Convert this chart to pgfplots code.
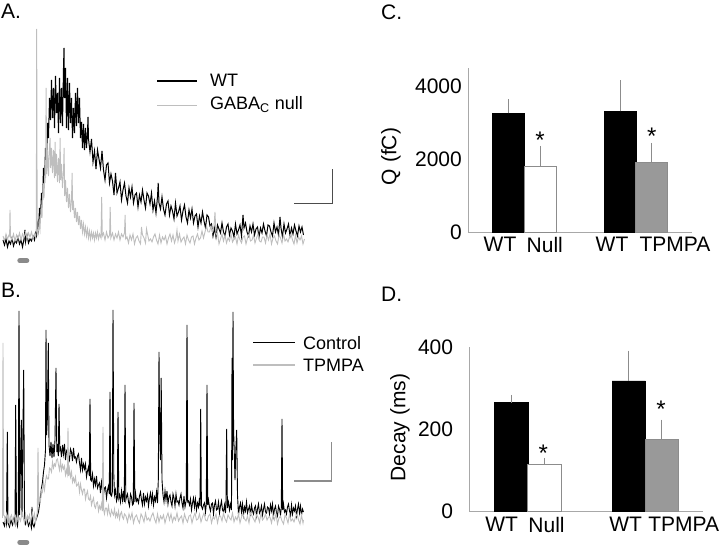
\documentclass[border=0pt]{standalone}
\usepackage{pgfplots}
\pgfplotsset{compat=1.18}
\usepackage{fontspec}
\setmainfont{Liberation Sans}
\definecolor{trgray}{HTML}{BEBEBE}
\definecolor{bargray}{HTML}{999999}
\definecolor{axgray}{HTML}{A8A8A8}
\definecolor{errgray}{HTML}{8C8C8C}
\definecolor{stimgray}{HTML}{8A8A8A}
\newcommand{\tickfont}{\fontsize{21}{25}\selectfont}
\newcommand{\legfont}{\fontsize{18}{22}\selectfont}
\begin{document}
\begin{tikzpicture}
\path[use as bounding box] (0pt,0pt) rectangle (720pt,546pt);
% panel letters
\node[anchor=base west, inner sep=0pt, font=\tickfont] at (1pt,527pt) {A.};
\node[anchor=base west, inner sep=0pt, font=\tickfont] at (1pt,248pt) {B.};
\node[anchor=base west, inner sep=0pt, font=\tickfont] at (381pt,526pt) {C.};
\node[anchor=base west, inner sep=0pt, font=\tickfont] at (381pt,244pt) {D.};

% ---------------- Panel A ----------------
\begin{axis}[at={(0pt,283pt)}, anchor=south west, scale only axis,
  width=340pt, height=237pt, xmin=0, xmax=340, ymin=-25, ymax=212,
  hide axis, clip=false]
\addplot[black, line width=1pt] coordinates {
(3,-2)(4.5,-7)(6,-1)(7.5,-9)(9,-3)(10.5,-6)(12,0)(13.5,-8)(15,-3)(16.5,-5)(18,1)(19.5,-6)(21,-2)(22.5,-9)(24,-1)(25,8)(25.5,-4)(27,3)(28.5,-5)(30,-1)(31.5,-3)(33,2)(34.5,-2)(35.5,5)(36.5,2)(37.5,14)(38.5,8)(39.5,30)(40.5,22)(41.5,45)(42.5,38)(43.5,70)(44.5,55)(45.5,90)(46.5,75)(47.5,115)(48.5,100)(49.5,140)(50.5,118)
(51.5,158)(52.5,120)(53.5,150)(54.5,110)(55.5,162)(56.5,125)(57.5,145)(58.5,105)(59.5,160)(60.5,115)(61.5,150)(62.5,112)(63.5,170)(64,190)(64.5,140)(65.5,170)(66.5,110)(67.5,160)(68.5,108)(69.5,155)(70.5,115)(71.5,140)(72.5,100)(73.5,130)(74.5,105)(75.5,145)(76.5,112)(77.5,150)(78.5,115)(79.5,140)(80.5,100)(81.5,116)(82.5,90)(83.5,114)(84.5,88)(85.5,110)(86.5,90)(87.5,106)
(88,121)(88.5,99)(90,86)(91.5,99)(93,76)(94.5,87)(96,69)(97.5,88)(99,79)(100.5,70)(102,87)(103.5,68)(105,58)(106.5,73)(108,75)(109.5,55)(111,64)(112.5,57)(114,43)(115.5,65)(117,45)(118.5,50)(120,56)
(121.5,38)(123,48)(124.5,55)(126,42)(127.5,35)(129,50)(130.5,41)(132,51)(133.5,35)(135,43)(136.5,45)(138,31)(139.5,43)(141,36)(142.5,48)(144,38)(145.5,30)(147,45)(148.5,42)(150,34)(151.5,45)(153,28)(154.5,37)(156,25)(157.5,41)(158.2,55)(159,35)(160.5,29)
(162,41)(163.5,29)(165,23)(166.5,34)(168,37)(169.5,23)(171,32)(172.5,27)(174,19)(175.5,35)(177,22)(178.5,26)(180,32)(181.5,18)(183,27)(184.5,33)(186,21)(187.5,15)(189,28)(190.5,20)(192,29)(193.5,15)(195,22)(196.5,24)(198,11)(199.5,22)(201,15)(202.5,26)(204,17)(205.5,10)(207,23)(208.5,21)(210,12)
(211.5,14)(213,2)(214.5,10)(216,1)(217.5,13)(219,9)(220.5,5)(222,15)(223.5,6)(225,2)(226.5,11)(228,14)(229.5,3)(231,10)(232.5,7)(234,1)(235.5,14)(237,4)(238.5,8)(240,13)(241.5,2)(243,23)(244,10)(245.5,15)(247,6)(248.5,2)(250,12)(251.5,6)(253,14)(254.5,3)(256,9)(257.5,11)(259,1)(260.5,10)(262,5)(263.5,14)(265,7)(266.5,2)(268,13)(269.5,12)(271,6)(272.5,2)(274,15)(275.5,6)(277,11)(278.5,3)(280,21)(281,10)(282.5,1)(284,14)(285.5,5)(287,9)(288.5,14)(290,2)(291.5,10)(293,4)(294.5,13)(296,7)(297.5,2)(299,12)(300.5,6)(302,11)(303.5,3)
};
\addplot[trgray, line width=0.9pt] coordinates {
(3,2)(4.5,-3)(6,4)(7.5,-1)(9,3)(9.6,2)(10,28)(10.5,1)(12,-2)(13.5,4)(15,-3)(16.5,3)(18,-1)(19.5,5)(21,-2)(22.5,4)(24,0)(25.5,6)(27,-1)(28.5,5)(30,1)(31.5,6)(33,-1)(34.5,4)(35.7,1)(36.3,10)(36.7,209)(37.2,8)(38,4)(39,14)(40,8)(41,30)(42,20)(43,55)(44,40)(45,72)(45.6,60)(46.1,150)(46.7,64)(47.5,88)(48.5,62)(49.5,92)(50.1,100)(50.7,70)(51.5,90)(52.5,65)(53.5,88)(54.5,60)(55.1,96)(55.7,62)(56.5,84)(57.5,56)(58.5,80)(59.5,55)(60.1,100)(60.7,58)(61.5,74)(62.5,50)(63.5,66)(64.1,90)(64.7,42)(65.5,58)(66.5,36)(67.5,50)(68.5,30)(69.5,44)(70.5,26)(71.5,38)(72.1,65)(72.7,28)(73.5,34)(74.5,20)(75.5,30)(76.5,16)(77.5,26)(78.5,13)(79.5,22)(80.5,9)(81.5,18)(82.5,6)(83.5,14)(84.5,4)(85.5,11)(86.5,2)(87.5,9)(88.5,0)(89.5,7)(90.5,-1)(91.5,6)(92.5,0)(93.5,5)(94.5,-2)(95.5,5)(96.5,0)(97.5,6)(98.5,-1)(99.5,4)(101,0)(101.7,41)(102.3,2)(103.5,5)(105,-2)(106.5,6)(108,0)(109.6,3)(110.2,31)(110.8,0)(112.5,5)(114,-2)(115.5,4)(117,0)(118.5,6)(120,-2)(121.5,4)(123,1)(124.5,5)(125.1,23)(125.7,-1)
(127,1)(128.5,-5)(130,3)(131.5,-2)(133,4)(134.5,-6)(136,0)(137.5,2)(139,-3)(140.5,-6)(141.5,11)(142.5,3)(144,0)(145.5,-5)(146.5,9)(147.5,4)(149,-3)(150.5,-1)(152,-4)(153.5,1)(155,4)(156.5,-2)(158,-6)(159.5,3)(161,-5)(162.5,1)(164,-2)(165.5,2)(167,-6)(168.5,0)(170,4)(171.5,-3)(173,3)(174.5,-5)(176,0)(177,8)(178,-3)(179.5,4)(181,-4)(182.5,-1)(184,1)(185.5,-6)(187,3)(188.5,-2)(190,-5)(191.5,1)(193,2)(194.5,-6)(196,0)(197.5,4)
(199,-2)(200.5,0)(202,7)(203.5,0)(205,6)(206.5,12)(208,6)(209.5,6)(211,12)(212.5,6)(214,12)(215,26)(216,3)(217.5,5)
(219,-6)(220.5,-1)(222,4)(223.5,-3)(225,3)(226.5,-5)(228,0)(229.5,-3)(231,4)(232.5,-4)(234,-1)(235.5,1)(237,-6)(238.5,3)(240,-2)(241.5,-5)(243,1)(244.5,2)(246,-6)(247.5,0)(249,4)(250.5,-3)(252,-2)(253.5,3)(255,-5)(256.5,0)(258,4)(259.5,-3)(261,-4)(262.5,1)(264,1)(265.5,-5)(267,3)(268.5,-2)(270,4)(271.5,-6)(273,0)(274.5,2)(276,-3)(277.5,-6)(279,3)(280.5,0)(282,-5)(283.5,4)(285,-3)(286.5,-1)(288,-4)(289.5,1)(291,4)(292.5,-2)(294,-6)(295.5,3)(297,-5)(298.5,1)(300,-2)(301.5,2)(303,-6)(304.5,-1)
};
% stimulus marker
\addplot[stimgray, line width=5pt, line cap=round] coordinates {(19.8,-22.7)(26.8,-22.7)};
% scale bar
\addplot[black!70, line width=1.1pt] coordinates {(294.3,34.3)(332.7,34.3)(332.7,69)};
% legend
\draw[black, line width=1.2pt] (axis cs:157,157) -- (axis cs:197,157);
\draw[trgray, line width=1.2pt] (axis cs:157,132.5) -- (axis cs:197,132.5);
\node[anchor=base west, inner sep=0pt, font=\legfont] at (axis cs:210,151) {WT};
\node[anchor=base west, inner sep=0pt, font=\legfont] at (axis cs:210,128) {GABA\textsubscript{C} null};
\end{axis}

% ---------------- Panel B ----------------
\begin{axis}[at={(0pt,0pt)}, anchor=south west, scale only axis,
  width=340pt, height=246pt, xmin=0, xmax=340, ymin=-26, ymax=220,
  hide axis, clip=false]
\addplot[black, line width=0.9pt] coordinates {
(3,-2)(4.5,-6)(5.5,1)(6.5,-4)(7.3,88)(8,-3)(9.5,-7)(11,0)(12.5,-5)(14,2)(15,-3)(15.7,115)(16.5,-2)(17.5,-6)(18.3,4)(19,209)(19.7,5)(20.5,60)(21.3,100)(22,3)(22.8,80)(23.7,150)(24.5,2)(25.5,-4)(27,1)(28.5,-6)(30,-2)(31.5,-8)(32,13)(32.5,-3)(34,-7)(35.5,-1)(37,3)(38.5,8)(39.5,15)(40.5,22)(41.5,32)(42.5,38)(43.5,48)(44.5,55)(45.5,70)(46,190)(46.6,85)(47.3,100)(48.3,177)(49,75)(50,64)(51,78)(52,62)(53,76)(54,63)(55,80)(56,152)(56.8,68)(57.5,76)(58.3,64)(59,116)(59.8,70)
(60.5,72)(61.5,63)(62.5,75)(63.5,66)(64.5,76)(65.5,60)(66.5,69)(67.5,71)(68.5,64)(69.5,60)(70.5,71)(71.5,68)(72.5,59)(73.5,72)(74.5,62)(75.5,63)(76.5,58)(77.5,64)(78.5,66)(79.5,57)(80.5,50)(81.5,62)(82.5,50)(83.5,56)(84.5,51)(85.5,56)(86.5,43)(87.5,49)(88.5,53)(89.3,44)(90,121)(90.7,40)(91.5,39)(92.5,46)(93.5,34)(94.5,41)(95.5,35)(96.5,44)(97.5,32)(98.5,35)(99.5,37)(100.5,27)(101.5,38)(102.5,30)(103.5,25)(104.5,32)(105.5,33)(106.5,22)(107.5,30)(108.5,34)(109.3,26)(110,128)(110.7,25)(111.5,24)(112.3,28)(113,210)(113.8,45)(114.5,25)(115.5,30)(116.5,19)(117.3,22)(118,108)(118.8,22)
(119.5,25)(120.5,18)(121.5,29)(122.5,20)(123.5,29)(124.3,18)(125,135)(125.8,20)(126.5,23)(127.5,26)(128.5,18)(129.5,14)(130.5,26)(131.5,23)(132.5,15)(133.3,16)(134,117)(134.8,18)(135.5,27)(136.5,19)(137.5,21)(138.5,17)(139.5,24)(140.5,28)(141.5,20)(142.5,15)(143.5,27)(144.5,16)(145.5,23)(146.5,19)(147.5,25)(148.5,14)(149.5,22)(150.5,27)(151.5,18)(152.5,26)(153.5,15)(154.5,23)(155.5,19)(156.5,28)(157.5,17)(158.3,40)(159,168)(159.8,80)(160.5,60)(161.2,142)(162,40)
(163,25)(164,18)(165,29)(166,20)(167,29)(168,16)(169,23)(170,25)(171,18)(172,14)(173,26)(174,22)(175,14)(176,26)(177,18)(178,19)(179,15)(180,22)(181,26)(182,17)(183,12)(184,24)(185,13)(186.3,20)(187,195)(187.7,18)(188.5,19)(189.5,15)(190.5,21)(191.5,10)(192.5,17)(193.5,22)(194.5,13)(195.5,21)(196.5,10)(197.5,17)(198.5,13)(199.5,22)(200,14)(200.7,111)(201.4,14)(202.5,11)(203.5,15)(204.5,17)(205.5,8)(206.3,16)(207,135)(207.7,15)(208.5,20)(209.5,13)(210.5,9)(211.5,16)(212.5,17)(213.5,6)(214.5,15)(215.5,19)(216.5,10)(217.5,11)(218.5,18)(219.5,7)(220.5,14)(221.5,19)(222.5,10)(223.5,8)(224.5,15)(225.5,7)(226,20)(226.7,91)(227.4,12)(228.5,18)(229.5,10)(230.5,16)(231.5,10)(232,162)(232.5,60)(233,208)(233.6,90)(234.2,70)(235,40)(235.8,70)(236.7,90)(237.5,25)
(238.5,5)(239.5,13)(240.5,17)(241.5,8)(242.5,16)(243.5,5)(244.5,13)(245.5,9)(246.5,18)(247.5,7)(248.5,11)(249.5,14)(250.5,4)(251.5,15)(252.5,9)(253.5,6)(254.5,12)(255.5,14)(256.5,4)(257.5,11)(258.5,16)(259.5,7)(260.5,9)(261.5,14)(262.5,5)(263.5,11)(264.5,16)(265.5,8)(266.5,7)(267.5,13)(268.5,12)(269.5,6)(270.5,15)(271.5,9)(272.5,16)(273.5,4)(274.5,11)(275.5,14)(276.5,7)(277.5,4)(278.5,14)(279.5,11)(280.5,5)(281.3,12)(282,101)(282.7,10)(283.5,16)(284.5,8)(285.5,10)(286.5,6)(287.5,13)(288.5,16)(289.5,9)(290.5,4)(291.5,15)(292.5,6)(293.5,12)(294.5,9)(295.5,14)(296.5,4)(297.5,11)(298.5,16)(299.5,7)(300.5,14)(301.5,5)(302.5,11)(303.5,8)
};
\addplot[trgray, line width=0.9pt] coordinates {
(2.5,2)(3,177)(3.6,5)(4.5,4)(5.5,-2)(6.5,6)(7.5,1)(8.5,7)(9.5,-3)(10.5,3)(11.5,5)(12.5,0)(13.5,-3)(14.5,6)(15.5,3)(16.5,-2)(17.5,7)(18.5,0)(19.5,2)(20.5,-1)(21.5,4)(22.5,7)(23.5,1)(24.5,-3)(25.5,6)(26.5,-2)(27.5,4)(28.5,1)(29.5,5)(30.5,-3)(31.5,3)(32.5,7)(33.5,0)(34.5,6)(35.5,-2)(36.5,3)(37.3,8)(38,72)(38.7,15)
(39.5,22)(40.5,19)(41.5,30)(42.5,28)(43.5,37)(44.5,30)(45.5,39)(46.5,44)(47.5,41)(48.5,41)(49.5,52)(50.5,51)(51.5,48)(52.5,58)(53.5,52)(54.5,56)(55.5,54)(56.5,60)(57.5,61)(58.5,55)(59.5,50)(60.5,59)(61.5,50)(62.5,55)(63.5,51)(64.5,54)(65.5,45)(66.5,50)(67.3,46)(68,92)(68.7,44)(69.5,51)(70.5,43)(71.5,48)(72.5,38)(73.5,42)(74.5,38)(75.5,43)(76.5,34)(77.5,35)(78.5,37)(79.5,28)(80.5,36)(81.5,30)(82.5,26)(83.5,31)(84.5,31)(85.5,21)(86.5,26)(87.5,29)(88.5,21)(89.5,20)(90.5,24)(91.5,15)(92.5,19)(93.5,22)(94.5,14)(95.5,12)(96.5,17)(97.5,18)(98.5,9)(99.5,14)(100.5,11)(101.5,16)(102.3,9)(103,93)(103.7,10)(104.5,6)(105.5,12)(106.5,12)(107.5,6)(108.5,14)(109.5,7)(110.5,4)(111.5,10)(112.5,7)(113.5,5)(114.5,11)(115.5,3)(116.5,7)(117.5,3)(118.5,9)(119.5,1)(120.5,6)(121.5,8)(122.5,3)(123.5,1)(124.5,6)
(126,4)(127.5,-2)(129,6)(130.5,1)(132,7)(133.5,-3)(135,3)(136.5,5)(138,0)(139.5,-3)(141,6)(142.5,3)(144,-2)(145.5,7)(147,0)(148.5,2)(150,-1)(151.5,4)(153,7)(154.5,1)(156,-3)(157.5,6)(159,-2)(160.5,4)(162,1)(163.5,5)(165,-3)(166.5,3)(168,7)(169.5,0)(171,6)(172.5,-2)(174,3)(175.5,0)(177,7)(178.5,-1)(180,2)(181.5,4)(183,-3)(184.5,6)(186,1)(187.5,-2)(189,4)(190.5,5)(192,-3)(193.5,3)(195,7)(196.5,0)(198,1)(199.5,6)(201,-2)(202.5,3)(204,7)(205.5,0)(207,-1)(208.5,4)(210,6)(211.5,-3)(213,3)(214.5,1)(216,6)(217.5,-3)(219,4)(220.5,4)(222,-1)(223.5,7)(225,1)(226.5,-2)(228,5)(229.5,2)(231,0)(232.5,7)(234,-2)(235.5,3)(237,0)(238.5,6)(240,-3)(241.5,3)(243,6)(244.5,1)(246,-1)(247.5,4)(249,-3)(250.5,7)(252,4)(253.5,1)(255,-2)(256.5,5)(258,3)(259.5,-2)(261,7)(262.5,0)(264,2)(265.5,6)(267,0)(268.5,3)(270,3)(271.5,-3)(273,5)(274.5,0)(276,6)(277.5,-4)(279,2)(280.5,4)(282,-1)(283.5,-4)(285,5)(286.5,2)(288,-3)(289.5,6)(291,-1)(292.5,1)(294,-2)(295.5,3)(297,6)(298.5,0)(300,-4)(301.5,5)(303,-3)(303.5,0)
};
\addplot[stimgray, line width=5pt, line cap=round] coordinates {(19.8,-22.3)(26.8,-22.3)};
\addplot[errgray, line width=1.1pt] coordinates {(294,39)(331.7,39)(331.7,77.7)};
\draw[black, line width=1.2pt] (axis cs:253,177.3) -- (axis cs:295,177.3);
\draw[trgray, line width=1.2pt] (axis cs:253,155) -- (axis cs:295,155);
\node[anchor=base west, inner sep=0pt, font=\legfont] at (axis cs:303,170) {Control};
\node[anchor=base west, inner sep=0pt, font=\legfont] at (axis cs:303,148.3) {TPMPA};
\end{axis}

% ---------------- Panel C ----------------
\begin{axis}[at={(468pt,313.7pt)}, anchor=south west, scale only axis,
  width=224pt, height=164.7pt,
  xmin=0, xmax=7, ymin=0, ymax=4500,
  axis x line*=bottom, axis y line*=left,
  axis line style={draw=axgray, line width=0.8pt},
  major tick length=0pt,
  ytick={0,2000,4000},
  xtick={1.0,2.4,4.5,6.47}, xticklabels={WT,Null,WT,TPMPA},
  tick label style={font=\tickfont},
  yticklabel style={anchor=east, inner sep=0pt, xshift=-6pt},
  xticklabel style={anchor=north, inner sep=0pt, yshift=-5pt},
  /pgf/number format/1000 sep={},
  /pgf/number format/assume math mode=true,
  ylabel={Q (fC)},
  every axis y label/.style={at={(axis description cs:-0.344,0.46)}, rotate=90, anchor=center, font=\tickfont},
  clip=false]
\addplot[ybar, bar width=1, bar shift=0pt, fill=black, draw=black,
  error bars/.cd, y dir=plus, y explicit, error mark=none,
  error bar style={errgray, line width=0.8pt}]
  coordinates {(1.266,3251) +- (0,383) (4.75,3306) +- (0,847)};
\addplot[ybar, bar width=1, bar shift=0pt, fill=white, draw=errgray, line width=0.6pt,
  error bars/.cd, y dir=plus, y explicit, error mark=none,
  error bar style={errgray, line width=0.8pt}]
  coordinates {(2.266,1803) +- (0,555)};
\addplot[ybar, bar width=1, bar shift=0pt, fill=bargray, draw=errgray, line width=0.6pt,
  error bars/.cd, y dir=plus, y explicit, error mark=none,
  error bar style={errgray, line width=0.8pt}]
  coordinates {(5.74,1902) +- (0,538)};
\node[anchor=north, inner sep=0pt, font=\fontsize{24}{28}\selectfont] at (axis cs:2.25,2749) {*};
\node[anchor=north, inner sep=0pt, font=\fontsize{24}{28}\selectfont] at (axis cs:5.74,2842) {*};
\end{axis}

% ---------------- Panel D ----------------
\begin{axis}[at={(469.3pt,34.3pt)}, anchor=south west, scale only axis,
  width=234pt, height=164.7pt,
  xmin=0, xmax=7.03, ymin=0, ymax=400,
  axis x line*=bottom, axis y line*=left,
  axis line style={draw=axgray, line width=0.8pt},
  major tick length=0pt,
  ytick={0,200,400},
  xtick={0.97,2.32,4.70,6.44}, xticklabels={WT,Null,WT,TPMPA},
  tick label style={font=\tickfont},
  yticklabel style={anchor=east, inner sep=0pt, xshift=-16pt},
  xticklabel style={anchor=north, inner sep=0pt, yshift=-5pt},
  /pgf/number format/1000 sep={},
  /pgf/number format/assume math mode=true,
  ylabel={Decay (ms)},
  every axis y label/.style={at={(axis description cs:-0.296,0.511)}, rotate=90, anchor=center, font=\tickfont},
  clip=false]
\addplot[ybar, bar width=1, bar shift=0pt, fill=black, draw=black,
  error bars/.cd, y dir=plus, y explicit, error mark=none,
  error bar style={errgray, line width=0.8pt}]
  coordinates {(1.261,265) +- (0,19) (4.787,318) +- (0,73)};
\addplot[ybar, bar width=1, bar shift=0pt, fill=white, draw=errgray, line width=0.6pt,
  error bars/.cd, y dir=plus, y explicit, error mark=none,
  error bar style={errgray, line width=0.8pt}]
  coordinates {(2.252,116) +- (0,14.6)};
\addplot[ybar, bar width=1, bar shift=0pt, fill=bargray, draw=errgray, line width=0.6pt,
  error bars/.cd, y dir=plus, y explicit, error mark=none,
  error bar style={errgray, line width=0.8pt}]
  coordinates {(5.778,176) +- (0,47.7)};
\node[anchor=north, inner sep=0pt, font=\fontsize{24}{28}\selectfont] at (axis cs:2.22,163.3) {*};
\node[anchor=north, inner sep=0pt, font=\fontsize{24}{28}\selectfont] at (axis cs:5.76,269.4) {*};
\end{axis}
\end{tikzpicture}
\end{document}
